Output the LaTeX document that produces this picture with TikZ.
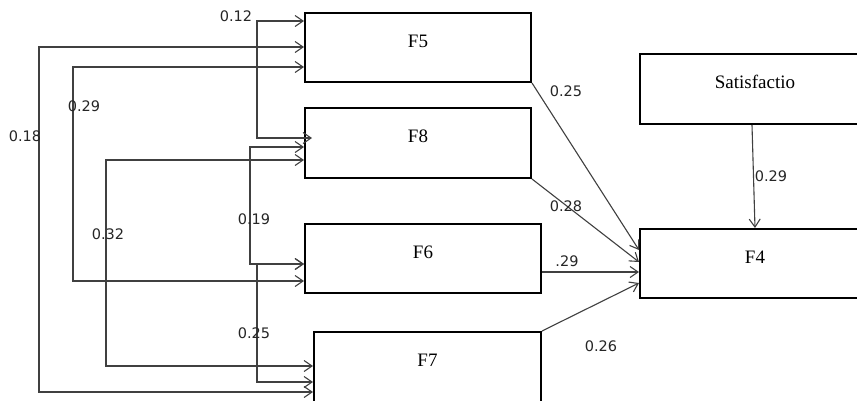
\documentclass[tikz,border=0pt]{standalone}
\usepackage{fontspec}
\setmainfont{Liberation Serif}
\newfontfamily\numfont{DejaVu Sans}
\usetikzlibrary{arrows.meta,calc}
\tikzset{
  box/.style={draw=black, line width=2pt, rectangle, font=\fontsize{19}{21}\selectfont,
              text height=12pt, text depth=13pt, inner sep=0pt},
  lbl/.style={font=\numfont\fontsize{14.5}{16}\selectfont, text=black!85, inner sep=0pt},
  conn/.style={draw=black!75, line width=1.1pt},
  corr/.style={conn, {Straight Barb[length=8pt,width=11pt]}-{Straight Barb[length=8pt,width=11pt]}},
  path1/.style={conn, -{Straight Barb[length=8pt,width=11pt]}}
}
\begin{document}
\begin{tikzpicture}[x=1pt,y=-1pt]
\useasboundingbox (0,0) rectangle (857,400);
\fill[white] (0,0) rectangle (857,400);

% boxes
\node[box, minimum width=226pt, minimum height=69pt] (F5) at (418,47.5) {F5};
\node[box, minimum width=226pt, minimum height=70pt] (F8) at (418,143) {F8};
\node[box, minimum width=236pt, minimum height=69pt] (F6) at (423,258.5) {F6};
\node[box, minimum width=227pt, minimum height=70pt] (F7) at (427.5,367) {F7};
\node[box, minimum width=230pt, minimum height=70pt] (Sat) at (755,89) {Satisfactio};
\node[box, minimum width=230pt, minimum height=69pt] (F4) at (755,263.5) {F4};

% elbow coordinates
\coordinate (c12t) at (257,21);  \coordinate (c12b) at (257,138);
\coordinate (c18t) at (39,47);   \coordinate (c18b) at (39,392);
\coordinate (c29t) at (73,67);   \coordinate (c29b) at (73,281);
\coordinate (c32t) at (106,160); \coordinate (c32b) at (106,366);
\coordinate (c19t) at (250,147); \coordinate (c19b) at (250,264);
\coordinate (c25t) at (257,264); \coordinate (c25b) at (257,382);

% correlations
\draw[corr] (F5.west |- c12t) -- (c12t) -- (c12b) -- ($(F8.west |- c12b)+(8,0)$);
\draw[corr] (F5.west |- c18t) -- (c18t) -- (c18b) -- (F7.west |- c18b);
\draw[corr] (F5.west |- c29t) -- (c29t) -- (c29b) -- (F6.west |- c29b);
\draw[corr] (F8.west |- c32t) -- (c32t) -- (c32b) -- (F7.west |- c32b);
\draw[corr] (F8.west |- c19t) -- (c19t) -- (c19b) -- (F6.west |- c19b);
\draw[corr] (F6.west |- c25t) -- (c25t) -- (c25b) -- (F7.west |- c25b);

% paths to F4
\draw[path1] (F5.south east) -- ($(F4.west)+(0,-13.5)$);
\draw[path1] (F8.south east) -- ($(F4.west)+(0,-1.5)$);
\draw[path1] ($(F6.east)+(0,13.5)$) -- ($(F4.west)+(0,8.5)$);
\draw[path1] (F7.north east) -- ($(F4.west)+(0,19.5)$);
\draw[path1] ($(Sat.south)+(-3,0)$) -- (F4.north);

% labels
\node[lbl] (l12) at (236,16) {0.12};
\node[lbl] (l18) at (25,136) {0.18};
\node[lbl] (l29) at (84,106) {0.29};
\node[lbl] (l32) at (108,234) {0.32};
\node[lbl] (l19) at (254,219) {0.19};
\node[lbl] (l25) at (254,333) {0.25};
\node[lbl] (r25) at (566,91) {0.25};
\node[lbl] (r28) at (566,206) {0.28};
\node[lbl] (r29) at (567,261) {.29};
\node[lbl] (r26) at (601,346) {0.26};
\node[lbl] (s29) at (771,176) {0.29};
\end{tikzpicture}
\end{document}
